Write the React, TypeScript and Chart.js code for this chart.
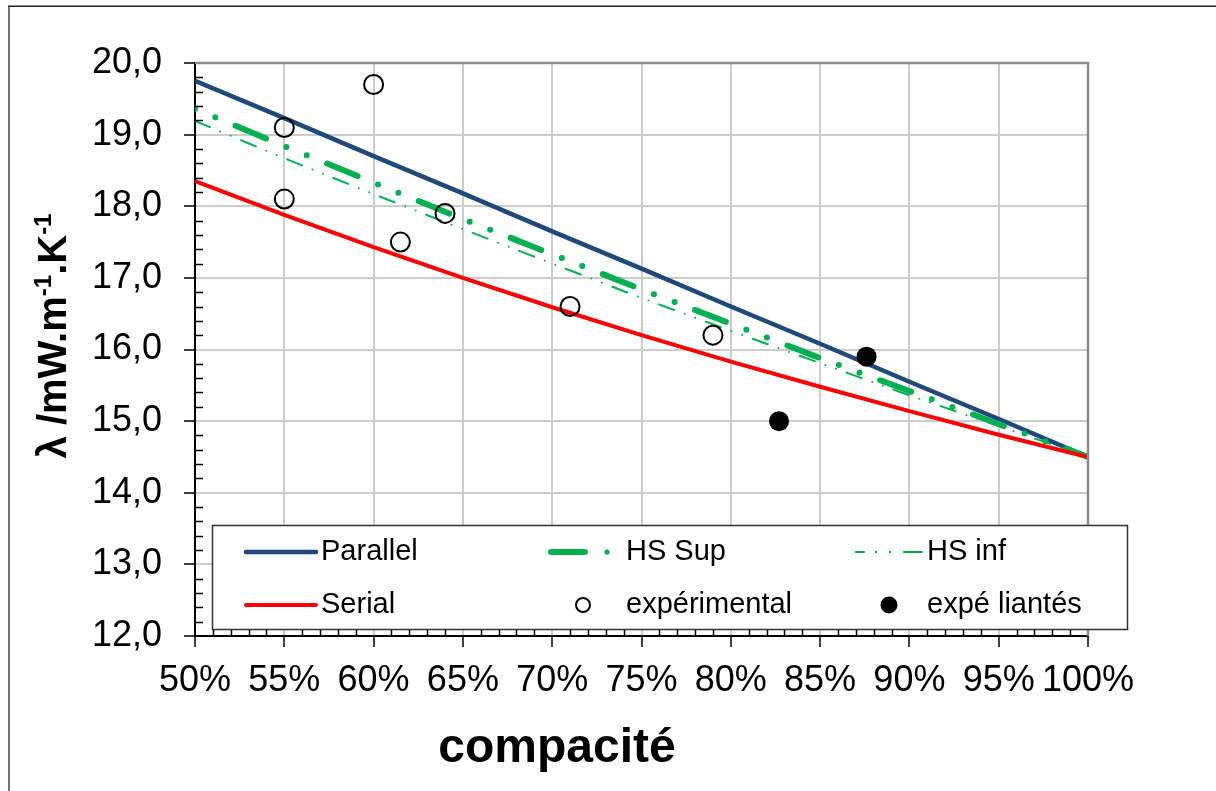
import React, { useEffect, useRef } from "react";
import { Chart, registerables } from "chart.js";
Chart.register(...registerables);

const W = 1216;
const H = 791;
const FONT = '"Liberation Sans", Arial, sans-serif';

// compacité (fraction) for the model curves
const compacite = [0.5, 0.55, 0.6, 0.65, 0.7, 0.75, 0.8, 0.85, 0.9, 0.95, 1.0];
const parallel = [19.75, 19.23, 18.7, 18.18, 17.65, 17.13, 16.6, 16.08, 15.55, 15.03, 14.5];
const hsSup = [19.36, 18.84, 18.33, 17.82, 17.33, 16.84, 16.36, 15.88, 15.42, 14.96, 14.5];
const hsInf = [19.19, 18.67, 18.17, 17.68, 17.2, 16.72, 16.26, 15.81, 15.36, 14.93, 14.5];
const serial = [18.35, 17.88, 17.43, 17.0, 16.59, 16.2, 15.83, 15.48, 15.14, 14.81, 14.5];

// experimental points
const expC = [0.55, 0.6, 0.55, 0.615, 0.64, 0.71, 0.79];
const expV = [19.1, 19.7, 18.1, 17.5, 17.9, 16.6, 16.2];
const liantC = [0.827, 0.876];
const liantV = [15.0, 15.9];

const legendLabels = ["Parallel", "HS Sup", "HS inf", "Serial", "expérimental", "expé liantés"];
const xTitle = "compacité";

const BLUE = "#1F497D";
const GREEN = "#00B050";
const RED = "#FF0000";

const toXY = (xs: number[], ys: number[]) => xs.map((x, i) => ({ x, y: ys[i] }));

export default function App() {
  const ref = useRef<HTMLCanvasElement>(null);

  useEffect(() => {
    const canvas = ref.current!;
    const decor = {
      id: "decor",
      beforeDraw(chart: any) {
        const ctx = chart.ctx;
        ctx.save();
        ctx.fillStyle = "#fff";
        ctx.fillRect(0, 0, chart.width, chart.height);
        ctx.restore();
      },
      afterDraw(chart: any) {
        const ctx = chart.ctx as CanvasRenderingContext2D;
        const ca = chart.chartArea;
        const xs = chart.scales.x;
        const ys = chart.scales.y;
        ctx.save();

        // plot area top/right border
        ctx.strokeStyle = "#8c8c8c";
        ctx.lineWidth = 2.5;
        ctx.beginPath();
        ctx.moveTo(ca.left, ca.top);
        ctx.lineTo(ca.right, ca.top);
        ctx.lineTo(ca.right, ca.bottom);
        ctx.stroke();

        // legend box
        const lx0 = 212, ly0 = 525, lx1 = 1128, ly1 = 630;
        ctx.fillStyle = "#fff";
        ctx.fillRect(lx0, ly0, lx1 - lx0, ly1 - ly0);
        ctx.strokeStyle = "#333";
        ctx.lineWidth = 1.5;
        ctx.strokeRect(lx0 + 0.5, ly0 + 0.5, lx1 - lx0 - 1, ly1 - ly0 - 1);

        const r1 = 552, r2 = 605;
        ctx.lineCap = "round";
        // Parallel
        ctx.strokeStyle = BLUE; ctx.lineWidth = 4.5;
        ctx.beginPath(); ctx.moveTo(246, r1); ctx.lineTo(316, r1); ctx.stroke();
        // Serial
        ctx.strokeStyle = RED; ctx.lineWidth = 4;
        ctx.beginPath(); ctx.moveTo(246, r2); ctx.lineTo(316, r2); ctx.stroke();
        // HS Sup
        ctx.strokeStyle = GREEN; ctx.fillStyle = GREEN; ctx.lineWidth = 6;
        ctx.beginPath(); ctx.moveTo(551, r1); ctx.lineTo(585, r1); ctx.stroke();
        ctx.beginPath(); ctx.arc(607, r1, 2.6, 0, Math.PI * 2); ctx.fill();
        // HS inf
        ctx.lineWidth = 2;
        ctx.beginPath(); ctx.moveTo(856, r1); ctx.lineTo(864, r1); ctx.stroke();
        ctx.beginPath(); ctx.arc(876, r1, 1.2, 0, Math.PI * 2); ctx.fill();
        ctx.beginPath(); ctx.arc(890, r1, 1.2, 0, Math.PI * 2); ctx.fill();
        ctx.beginPath(); ctx.moveTo(904, r1); ctx.lineTo(922, r1); ctx.stroke();
        // markers
        ctx.strokeStyle = "#000"; ctx.lineWidth = 2;
        ctx.beginPath(); ctx.arc(583, r2, 7, 0, Math.PI * 2); ctx.stroke();
        ctx.fillStyle = "#000";
        ctx.beginPath(); ctx.arc(889, r2, 8.5, 0, Math.PI * 2); ctx.fill();

        ctx.fillStyle = "#000";
        ctx.font = `29px ${FONT}`;
        ctx.textBaseline = "middle";
        ctx.textAlign = "left";
        ctx.fillText(legendLabels[0], 321, r1);
        ctx.fillText(legendLabels[1], 626, r1);
        ctx.fillText(legendLabels[2], 927, r1);
        ctx.fillText(legendLabels[3], 321, r2);
        ctx.fillText(legendLabels[4], 626, r2);
        ctx.fillText(legendLabels[5], 927, r2);

        // minor ticks
        ctx.strokeStyle = "#000";
        ctx.lineWidth = 1.5;
        ctx.lineCap = "butt";
        ctx.beginPath();
        for (let i = 0; i <= 40; i++) {
          if (i % 5 === 0) continue;
          const y = Math.round(ys.getPixelForValue(12 + i * 0.2)) + 0.5;
          ctx.moveTo(ca.left, y);
          ctx.lineTo(ca.left + 8, y);
        }
        for (let i = 0; i <= 50; i++) {
          if (i % 5 === 0) continue;
          const x = Math.round(xs.getPixelForValue(0.5 + i * 0.01)) + 0.5;
          ctx.moveTo(x, ca.bottom);
          ctx.lineTo(x, ca.bottom - 6);
        }
        ctx.stroke();

        // x title
        ctx.font = `bold 48px ${FONT}`;
        ctx.textAlign = "center";
        ctx.textBaseline = "alphabetic";
        ctx.fillText(xTitle, 557, 762);

        // y title with superscripts
        const parts: [string, boolean][] = [
          ["λ /mW.m", false],
          ["-1", true],
          [".K", false],
          ["-1", true],
        ];
        const big = `bold 40px ${FONT}`;
        const small = `bold 24px ${FONT}`;
        let total = 0;
        const widths = parts.map(([t, sup]) => {
          ctx.font = sup ? small : big;
          const w = ctx.measureText(t).width;
          total += w;
          return w;
        });
        ctx.translate(66, 336);
        ctx.rotate(-Math.PI / 2);
        ctx.textAlign = "left";
        let px = -total / 2;
        parts.forEach(([t, sup], i) => {
          ctx.font = sup ? small : big;
          ctx.fillText(t, px, sup ? -15 : 0);
          px += widths[i];
        });
        ctx.setTransform(1, 0, 0, 1, 0, 0);

        // outer frame
        ctx.strokeStyle = "#777";
        ctx.lineWidth = 2;
        ctx.beginPath();
        ctx.moveTo(9, H);
        ctx.lineTo(9, 6);
        ctx.stroke();
        ctx.strokeStyle = "#222";
        ctx.lineWidth = 1.5;
        ctx.beginPath();
        ctx.moveTo(8, 6.25);
        ctx.lineTo(W, 6.25);
        ctx.stroke();

        ctx.restore();
      },
    };

    const chart = new Chart(canvas, {
      type: "scatter",
      data: {
        datasets: [
          {
            label: legendLabels[5],
            data: toXY(liantC, liantV),
            pointRadius: 10,
            pointBackgroundColor: "#000",
            pointBorderColor: "#000",
            pointBorderWidth: 0,
            showLine: false,
            order: 0,
          },
          {
            label: legendLabels[4],
            data: toXY(expC, expV),
            pointRadius: 9.5,
            pointBackgroundColor: "rgba(0,0,0,0)",
            pointBorderColor: "#000",
            pointBorderWidth: 2,
            showLine: false,
            order: 1,
          },
          {
            label: legendLabels[3],
            data: toXY(compacite, serial),
            showLine: true,
            borderColor: RED,
            borderWidth: 4,
            pointRadius: 0,
            order: 2,
          },
          {
            label: legendLabels[2],
            data: toXY(compacite, hsInf),
            showLine: true,
            borderColor: GREEN,
            borderWidth: 2,
            borderDash: [16, 11.3, 0, 11.3, 0, 11.3],
            borderCapStyle: "round",
            pointRadius: 0,
            order: 3,
          },
          {
            label: legendLabels[1],
            data: toXY(compacite, hsSup),
            showLine: true,
            borderColor: GREEN,
            borderWidth: 6,
            borderDash: [0, 22, 0, 22, 33, 22],
            borderCapStyle: "round",
            pointRadius: 0,
            order: 4,
          },
          {
            label: legendLabels[0],
            data: toXY(compacite, parallel),
            showLine: true,
            borderColor: BLUE,
            borderWidth: 4.5,
            pointRadius: 0,
            order: 5,
          },
        ],
      },
      options: {
        responsive: false,
        animation: false,
        devicePixelRatio: 1,
        layout: { padding: { left: 0, top: 63, right: 128, bottom: 55 } },
        plugins: { legend: { display: false }, tooltip: { enabled: false } },
        scales: {
          x: {
            type: "linear",
            min: 0.5,
            max: 1.0,
            afterFit: (s: any) => { s.height = 100; },
            ticks: {
              stepSize: 0.05,
              padding: 12,
              color: "#000",
              font: { family: FONT, size: 36 },
              maxRotation: 0,
              autoSkip: false,
              callback: (v: any) => Math.round(Number(v) * 100) + "%",
            },
            grid: { color: "#cccccc", lineWidth: 2, tickColor: "#000", tickLength: 11, tickWidth: 1.5 },
            border: { color: "#000", width: 2 },
          },
          y: {
            min: 12,
            max: 20,
            afterFit: (s: any) => { s.width = 195; },
            ticks: {
              stepSize: 1,
              padding: 22,
              color: "#000",
              font: { family: FONT, size: 36 },
              callback: (v: any) => Number(v).toFixed(1).replace(".", ","),
            },
            grid: { color: "#cccccc", lineWidth: 2, tickColor: "#000", tickLength: 11, tickWidth: 1.5 },
            border: { color: "#000", width: 2 },
          },
        },
      },
      plugins: [decor],
    } as any);
    return () => chart.destroy();
  }, []);

  return (
    <div style={{ position: "fixed", left: 0, top: 0, width: W, height: H, background: "#fff" }}>
      <canvas ref={ref} width={W} height={H} style={{ width: W, height: H, display: "block" }} />
    </div>
  );
}
